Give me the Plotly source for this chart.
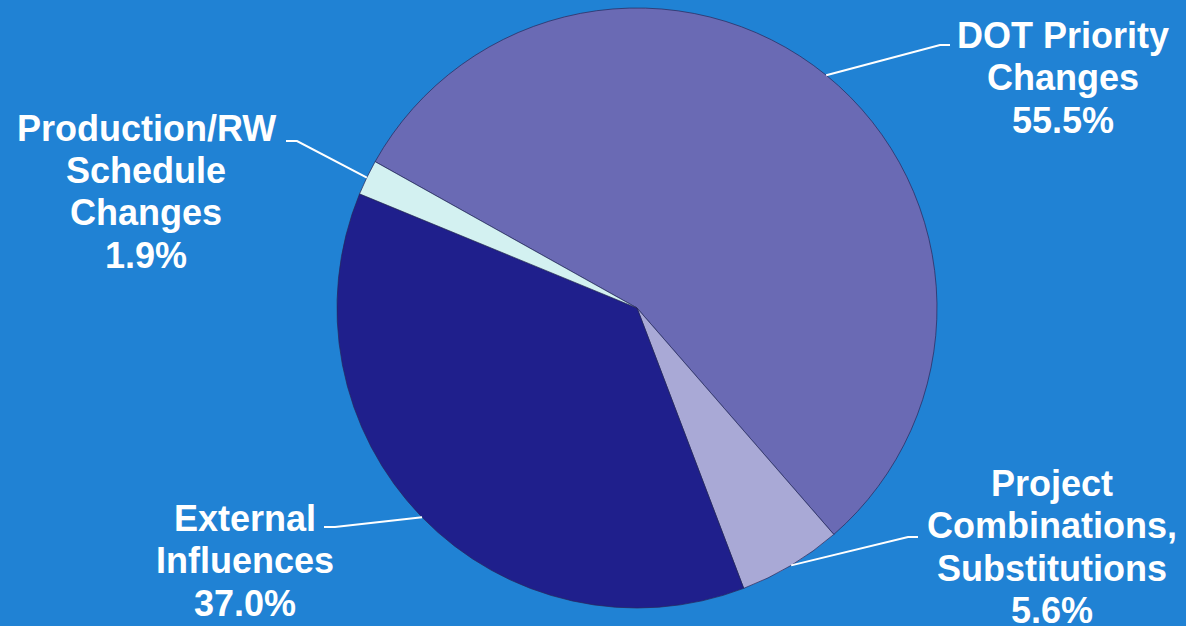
import math
import plotly.graph_objects as go

# ---- data ----
categories = ["DOT Priority Changes", "Project Combinations, Substitutions",
              "External Influences", "Production/RW Schedule Changes"]
values = [55.5, 5.6, 37.0, 1.9]
label_lines = [["DOT Priority", "Changes", "55.5%"],
               ["Project", "Combinations,", "Substitutions", "5.6%"],
               ["External", "Influences", "37.0%"],
               ["Production/RW", "Schedule", "Changes", "1.9%"]]
colors = ["#6a6ab4", "#a9a9d6", "#1f1f8c", "#d3f1f1"]

# ---- layout constants (pixels) ----
W, H = 1186, 626
CX, CY, R = 637, 308, 300
ROT = 299.2  # degrees clockwise from 12 o'clock where first slice starts
LINE_GAP = 42.5
FONT_SIZE = 36
# x centre and first-line y centre of each label block (pixels)
label_pos = [(1063, 35), (1052, 483), (245, 518), (146, 128)]
elbows = [[(940, 45), (950, 45)], [(908, 537), (918, 537)],
          [(335, 527), (324, 527)], [(297, 141), (286, 141)]]

def px(x):
    return x / W

def py(y):
    return 1 - y / H

fig = go.Figure(go.Pie(
    labels=categories, values=values, sort=False, direction="clockwise",
    rotation=ROT, textinfo="none", hoverinfo="label+percent",
    marker=dict(colors=colors, line=dict(color="rgba(40,40,90,0.7)", width=1)),
    domain=dict(x=[px(CX - R), px(CX + R)], y=[py(CY + R), py(CY - R)]),
    showlegend=False,
))

total = sum(values)
cum = 0.0
shapes = []
annotations = []
for i, v in enumerate(values):
    mid = ROT + (cum + v / 2) / total * 360
    cum += v
    a = math.radians(mid)
    sx, sy = CX + R * math.sin(a), CY - R * math.cos(a)
    pts = [(sx, sy)] + elbows[i]
    path = "M " + " L ".join(f"{px(x)},{py(y)}" for x, y in pts)
    shapes.append(dict(type="path", path=path, xref="paper", yref="paper",
                       line=dict(color="white", width=2)))
    lx, ly = label_pos[i]
    for j, line in enumerate(label_lines[i]):
        annotations.append(dict(text=f"<b>{line}</b>", x=px(lx),
                                y=py(ly + j * LINE_GAP),
                                xref="paper", yref="paper", showarrow=False,
                                xanchor="center", yanchor="middle", align="center",
                                font=dict(family="Liberation Sans, Arial",
                                          size=FONT_SIZE, color="white")))

fig.update_layout(
    width=W, height=H, margin=dict(l=0, r=0, t=0, b=0),
    paper_bgcolor="#2082d4", plot_bgcolor="#2082d4",
    shapes=shapes, annotations=annotations,
)
fig.write_html("out.html")
